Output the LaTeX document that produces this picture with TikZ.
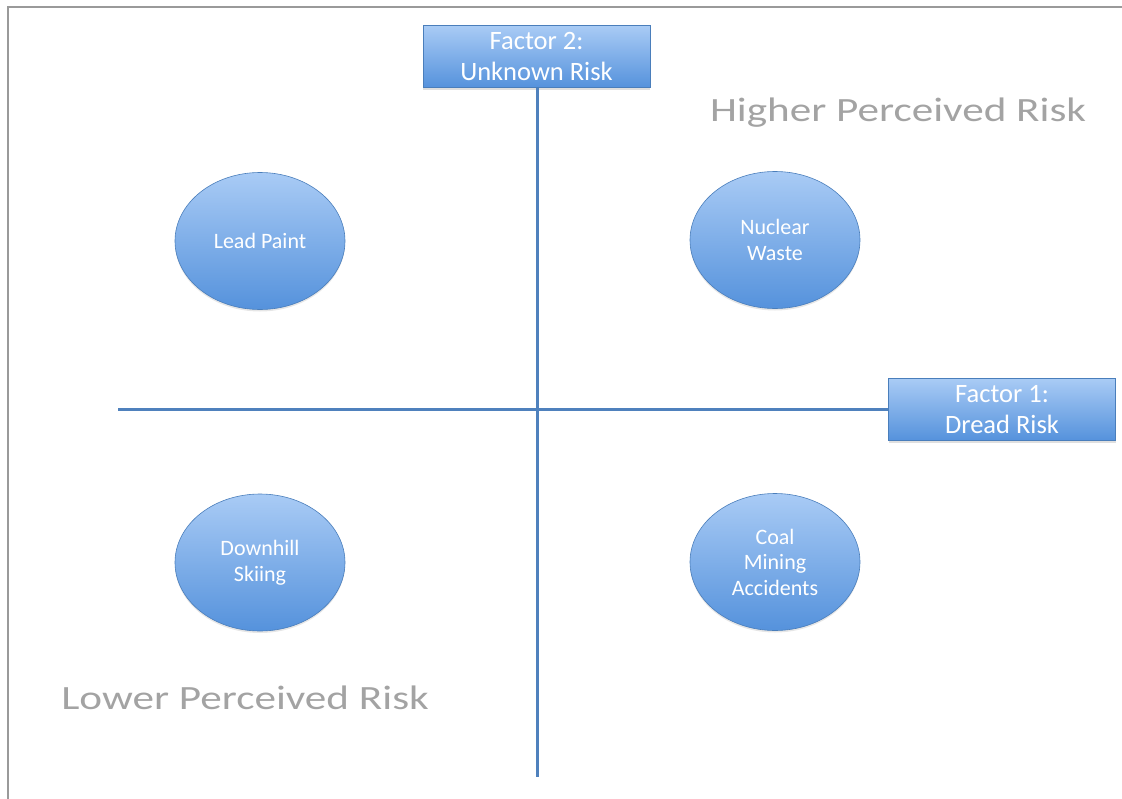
\documentclass[tikz,border=0pt]{standalone}
\usepackage{fontspec}
\setmainfont{Carlito}
\usetikzlibrary{shapes.geometric,shadows}
\definecolor{axisblue}{HTML}{4F81BD}
\definecolor{edgeblue}{HTML}{4A7EBB}
\definecolor{topblue}{HTML}{A9CBF5}
\definecolor{botblue}{HTML}{5592DC}
\definecolor{labelgray}{HTML}{A3A3A3}
\definecolor{framegray}{HTML}{9A9A9A}
\tikzset{
  factorbox/.style={draw=edgeblue, line width=0.8pt, top color=topblue, bottom color=botblue,
    minimum width=227pt, minimum height=62pt, inner sep=0pt, align=center, text=white,
    font=\fontsize{26.5}{31}\selectfont,
    drop shadow={opacity=0.25, shadow xshift=0pt, shadow yshift=-2pt}},
  risk/.style={ellipse, draw=edgeblue, line width=0.6pt, top color=topblue, bottom color=botblue,
    minimum width=170pt, minimum height=137pt, inner sep=0pt, align=center, text=white,
    font=\fontsize{22}{25.5}\selectfont,
    drop shadow={opacity=0.2, shadow xshift=0pt, shadow yshift=-2pt}},
  biglabel/.style={text=labelgray, inner sep=0pt, font=\fontsize{34}{40}\selectfont},
  axis/.style={draw=axisblue, line width=3pt},
  frame/.style={draw=framegray, line width=2pt}
}
\begin{document}
\begin{tikzpicture}[x=1pt, y=-1pt]
\useasboundingbox (0,0) rectangle (1122,798);
% frame (top and left edges)
\coordinate (fbl) at (8,800);
\coordinate (ftl) at (8,7);
\coordinate (ftr) at (1124,7);
\draw[frame] (fbl) -- (ftl) -- (ftr);
% factor boxes
\node[factorbox] (f2) at (536.5,56.5) {Factor 2:\\Unknown Risk};
\node[factorbox] (f1) at (1002,409.5) {Factor 1:\\Dread Risk};
% axes
\coordinate (vbot) at (537,777);
\coordinate (hleft) at (118,409.5);
\draw[axis] (f2.south -| vbot) -- (vbot);
\draw[axis] (hleft) -- (f1.west);
% ellipses
\node[risk] (lead) at (260,241) {Lead Paint};
\node[risk] (nuclear) at (775,240) {Nuclear\\Waste};
\node[risk] (ski) at (260,562.5) {Downhill\\Skiing};
\node[risk] (coal) at (775,562) {Coal\\Mining\\Accidents};
% big labels
\node[biglabel] (higher) at (898,113) {\scalebox{1.27}[1]{Higher Perceived Risk}};
\node[biglabel] (lower) at (245,698) {\scalebox{1.27}[1]{Lower Perceived Risk}};
\end{tikzpicture}
\end{document}
